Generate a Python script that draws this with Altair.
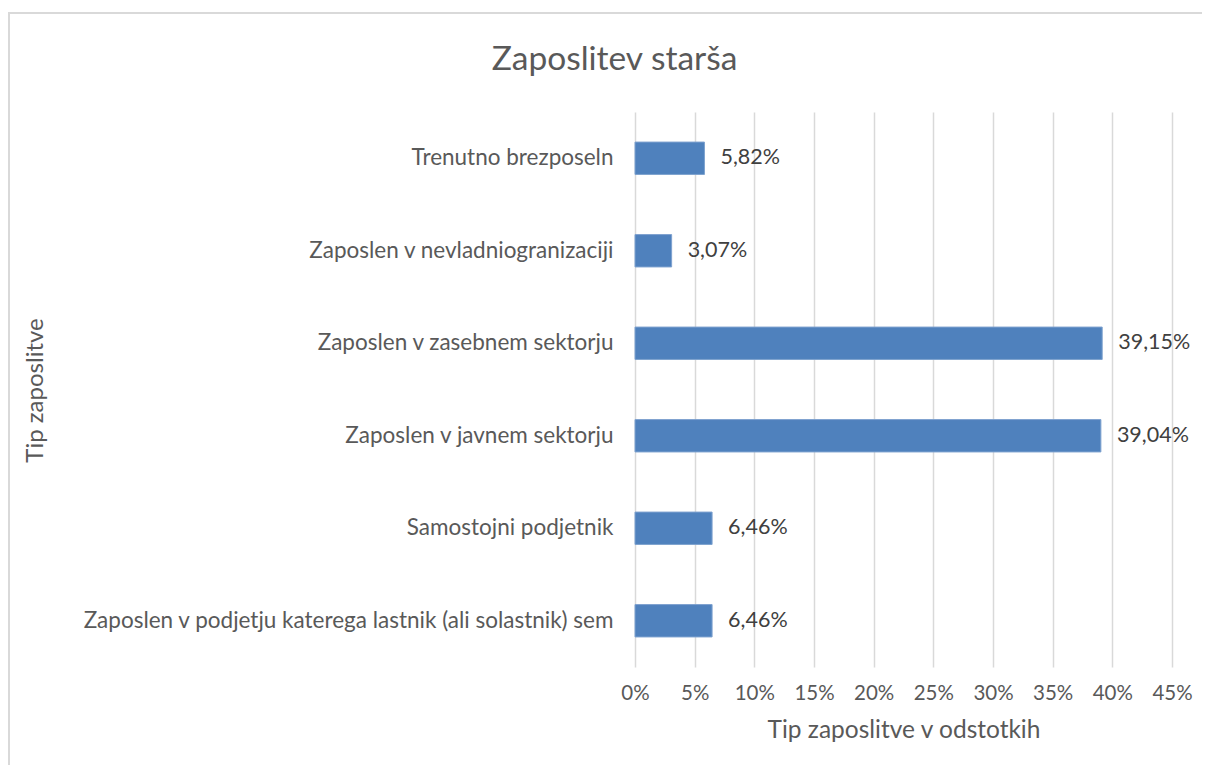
import altair as alt
import pandas as pd

categories = [
    "Trenutno brezposeln",
    "Zaposlen v nevladniogranizaciji",
    "Zaposlen v zasebnem sektorju",
    "Zaposlen v javnem sektorju",
    "Samostojni podjetnik",
    "Zaposlen v podjetju katerega lastnik (ali solastnik) sem",
]
values = [5.82, 3.07, 39.15, 39.04, 6.46, 6.46]
x_ticks = [0, 5, 10, 15, 20, 25, 30, 35, 40, 45]

df = pd.DataFrame({
    "cat": categories,
    "val": values,
    "label": [f"{v:.2f}".replace(".", ",") + "%" for v in values],
})

FONT = "Lato"
GREY = "#595959"

base = alt.Chart(df)

y_enc = alt.Y(
    "cat:N",
    sort=categories,
    scale=alt.Scale(paddingInner=0.65, paddingOuter=0.325),
    axis=alt.Axis(
        title="Tip zaposlitve",
        titleFont=FONT, titleFontSize=24, titleFontWeight="normal", titleColor=GREY,
        titleX=-600, titleY=278, titleAngle=270, titleAlign="center", titleBaseline="middle",
        labelFont=FONT, labelFontSize=22.5, labelColor=GREY, labelPadding=22,
        labelLimit=700, ticks=False, domain=False, grid=False,
    ),
)

x_enc = alt.X(
    "val:Q",
    scale=alt.Scale(domain=[0, 45], nice=False),
    axis=alt.Axis(
        values=x_ticks,
        labelExpr="datum.value + '%'",
        labelOverlap=False,
        labelFlush=False,
        title="Tip zaposlitve v odstotkih",
        titleFont=FONT, titleFontSize=24.5, titleFontWeight="normal", titleColor=GREY,
        titlePadding=15,
        labelFont=FONT, labelFontSize=20.5, labelColor=GREY, labelPadding=16,
        ticks=False, domain=False, grid=True, gridColor="#D9D9D9", gridWidth=1.5,
    ),
)

bars = base.mark_bar(color="#4F81BD", stroke="#7EA2CF", strokeWidth=1).encode(x=x_enc, y=y_enc)

labels = base.mark_text(
    align="left", baseline="middle", dx=16, font=FONT, fontSize=21.5, color="#404040"
).encode(x="val:Q", y=alt.Y("cat:N", sort=categories), text="label:N")

border = alt.Chart(pd.DataFrame({"a": [0]})).mark_rect(
    filled=False, stroke="#D9D9D9", strokeWidth=2
).encode(x=alt.value(-626), x2=alt.value(700), y=alt.value(-99), y2=alt.value(720))

chart = alt.layer(border, bars, labels).properties(
    width=537,
    height=555,
    title=alt.TitleParams(
        "Zaposlitev starša", font=FONT, fontSize=33.5, fontWeight="normal",
        color=GREY, anchor="middle", dx=-289, offset=-65,
    ),
    autosize=alt.AutoSizeParams(type="none"),
    padding={"left": 627, "top": 104, "right": 30, "bottom": 98},
).configure_view(stroke=None)

chart.save("out.html", embed_options={"renderer": "svg", "actions": False})
